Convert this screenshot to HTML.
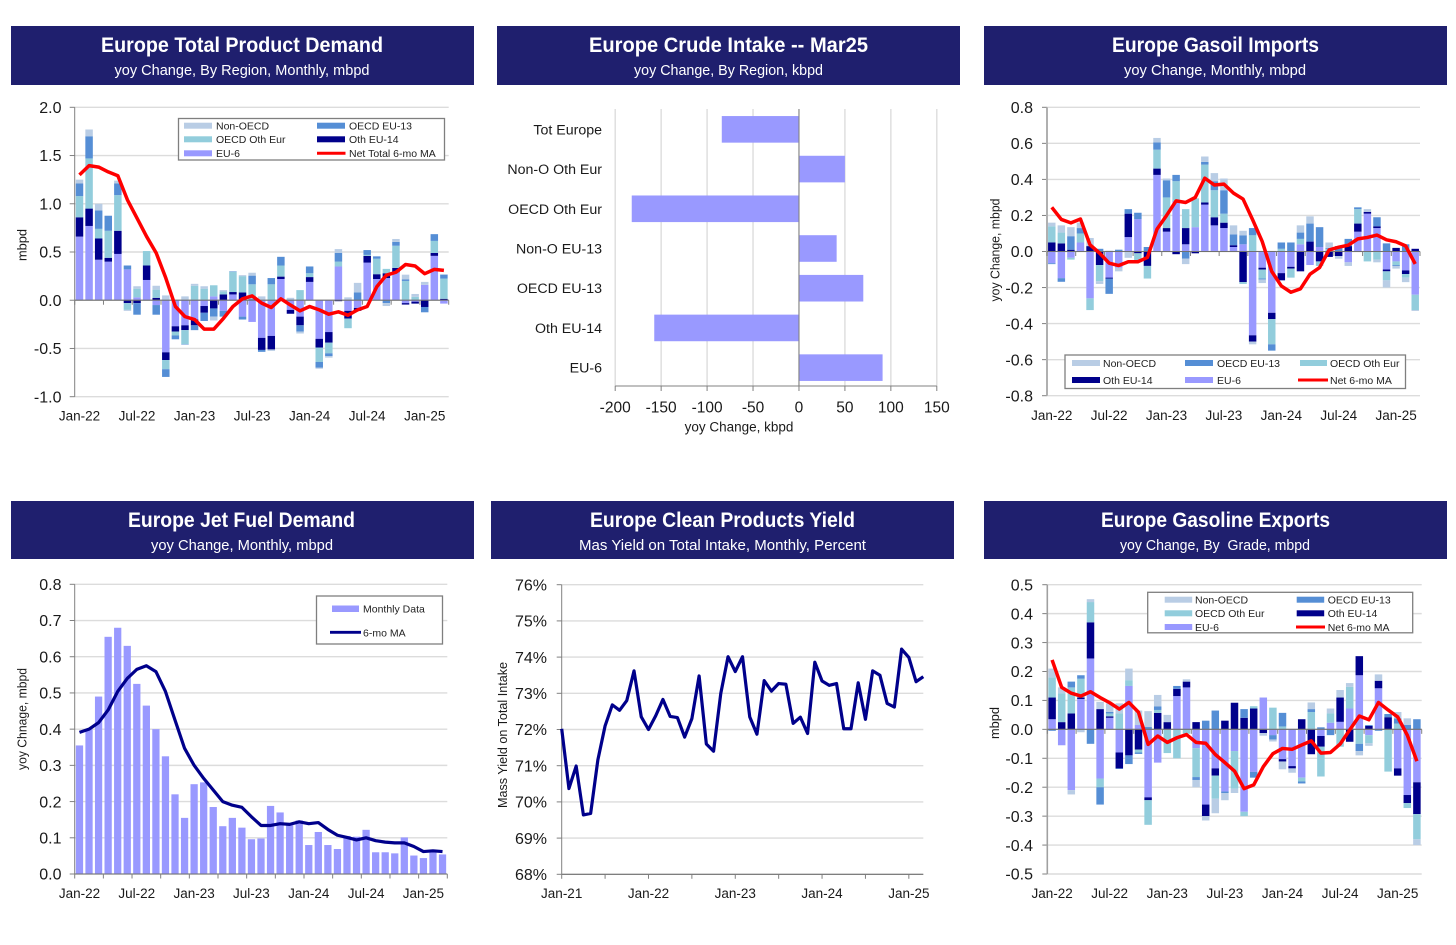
<!DOCTYPE html>
<html lang="en">
<head>
<meta charset="utf-8">
<title>Europe Oil Market Charts</title>
<style>
html,body{margin:0;padding:0;background:#fff;width:1456px;height:945px;overflow:hidden}
svg{display:block;font-family:"Liberation Sans",sans-serif}
.tb{fill:#1f1f6e}
.tt{fill:#fff;font-size:21px;font-weight:bold;text-anchor:middle}
.ts{fill:#fff;font-size:14.5px;text-anchor:middle;white-space:pre}
.lg{fill:#fff;stroke:#7f7f7f;stroke-width:1.3}
.lt{fill:#222;font-size:10.5px}
</style>
</head>
<body>
<svg id="page" width="1456" height="945" viewBox="0 0 1456 945" xmlns="http://www.w3.org/2000/svg">
  <g>
    <rect class="tb" x="11" y="26" width="463" height="59"/>
    <text class="tt" x="242" y="52" textLength="282" lengthAdjust="spacingAndGlyphs">Europe Total Product Demand</text>
    <text class="ts" x="242" y="75" textLength="255" lengthAdjust="spacingAndGlyphs">yoy Change, By Region, Monthly, mbpd</text>
  </g>
  <g>
    <rect class="tb" x="497" y="26" width="463" height="59"/>
    <text class="tt" x="728.500" y="52" textLength="279" lengthAdjust="spacingAndGlyphs">Europe Crude Intake -- Mar25</text>
    <text class="ts" x="728.500" y="75" textLength="189" lengthAdjust="spacingAndGlyphs">yoy Change, By Region, kbpd</text>
  </g>
  <g>
    <rect class="tb" x="984" y="26" width="463" height="59"/>
    <text class="tt" x="1215.500" y="52" textLength="207" lengthAdjust="spacingAndGlyphs">Europe Gasoil Imports</text>
    <text class="ts" x="1215" y="75" textLength="182" lengthAdjust="spacingAndGlyphs">yoy Change, Monthly, mbpd</text>
  </g>
  <g>
    <rect class="tb" x="11" y="501" width="463" height="58"/>
    <text class="tt" x="241.500" y="527" textLength="227" lengthAdjust="spacingAndGlyphs">Europe Jet Fuel Demand</text>
    <text class="ts" x="242" y="550" textLength="182" lengthAdjust="spacingAndGlyphs">yoy Change, Monthly, mbpd</text>
  </g>
  <g>
    <rect class="tb" x="491" y="501" width="463" height="58"/>
    <text class="tt" x="722.500" y="527" textLength="265" lengthAdjust="spacingAndGlyphs">Europe Clean Products Yield</text>
    <text class="ts" x="722.500" y="550" textLength="287" lengthAdjust="spacingAndGlyphs">Mas Yield on Total Intake, Monthly, Percent</text>
  </g>
  <g>
    <rect class="tb" x="984" y="501" width="463" height="58"/>
    <text class="tt" x="1215.500" y="527" textLength="229" lengthAdjust="spacingAndGlyphs">Europe Gasoline Exports</text>
    <text class="ts" x="1215" y="550" textLength="190" lengthAdjust="spacingAndGlyphs">yoy Change, By  Grade, mbpd</text>
  </g>
  <g id="plots"></g>
  <g>
    <rect class="lg" x="178.500" y="118.500" width="266" height="41.500"/>
    <rect x="184" y="122.700" width="28" height="6" fill="#b9cde5"/>
    <text class="lt" x="216" y="129.500">Non-OECD</text>
    <rect x="184" y="136.300" width="28" height="6" fill="#92cddc"/>
    <text class="lt" x="216" y="143.200">OECD Oth Eur</text>
    <rect x="184" y="150.300" width="28" height="6" fill="#9999ff"/>
    <text class="lt" x="216" y="157">EU-6</text>
    <rect x="317" y="122.700" width="28" height="6" fill="#558ed5"/>
    <text class="lt" x="349" y="129.500">OECD EU-13</text>
    <rect x="317" y="136.300" width="28" height="6" fill="#00008b"/>
    <text class="lt" x="349" y="143.200">Oth EU-14</text>
    <line x1="317" x2="345.500" y1="153.300" y2="153.300" stroke="#f00" stroke-width="3"/>
    <text class="lt" x="349" y="157">Net Total 6-mo MA</text>
  </g>
  <g>
    <rect class="lg" x="1065" y="355" width="340.500" height="33.500"/>
    <rect x="1072" y="360" width="28" height="6" fill="#b9cde5"/>
    <text class="lt" x="1103" y="367">Non-OECD</text>
    <rect x="1072" y="377" width="28" height="6" fill="#00008b"/>
    <text class="lt" x="1103" y="384">Oth EU-14</text>
    <rect x="1185" y="360" width="28" height="6" fill="#558ed5"/>
    <text class="lt" x="1217" y="367">OECD EU-13</text>
    <rect x="1185" y="377" width="28" height="6" fill="#9999ff"/>
    <text class="lt" x="1217" y="384">EU-6</text>
    <rect x="1300" y="360" width="27" height="6" fill="#92cddc"/>
    <text class="lt" x="1330" y="367">OECD Oth Eur</text>
    <line x1="1298" x2="1328" y1="380" y2="380" stroke="#f00" stroke-width="3"/>
    <text class="lt" x="1330" y="384">Net 6-mo MA</text>
  </g>
  <g>
    <rect class="lg" x="316.500" y="596" width="126" height="48"/>
    <rect x="332" y="605.500" width="27" height="6.500" fill="#9999ff"/>
    <text class="lt" x="363" y="612.500">Monthly Data</text>
    <line x1="330" x2="361" y1="632.300" y2="632.300" stroke="#00008b" stroke-width="2.800"/>
    <text class="lt" x="363" y="636.500">6-mo MA</text>
  </g>
  <g>
    <rect class="lg" x="1147.700" y="592.300" width="265" height="40.500"/>
    <rect x="1164.700" y="596.700" width="27.500" height="6" fill="#b9cde5"/>
    <text class="lt" x="1195" y="603.500">Non-OECD</text>
    <rect x="1164.700" y="610.300" width="27.500" height="6" fill="#92cddc"/>
    <text class="lt" x="1195" y="617.200">OECD Oth Eur</text>
    <rect x="1164.700" y="624" width="27.500" height="6" fill="#9999ff"/>
    <text class="lt" x="1195" y="630.800">EU-6</text>
    <rect x="1296.700" y="596.700" width="27.500" height="6" fill="#558ed5"/>
    <text class="lt" x="1327.700" y="603.500">OECD EU-13</text>
    <rect x="1296.700" y="610.300" width="27.500" height="6" fill="#00008b"/>
    <text class="lt" x="1327.700" y="617.200">Oth EU-14</text>
    <line x1="1296" x2="1325" y1="627" y2="627" stroke="#f00" stroke-width="3"/>
    <text class="lt" x="1327.700" y="630.800">Net 6-mo MA</text>
  </g>
</svg>
<script>
const stackXLabels = ['Jan-22','Jul-22','Jan-23','Jul-23','Jan-24','Jul-24','Jan-25'];

const demandTicks = [2,1.5,1,0.5,0,-0.5,-1];
const demandEU6 = [.66,.77,.42,.40,.48,.32,.03,.21,-.05,-.54,-.27,-.26,-.20,-.06,.04,-.11,.06,-.17,-.225,-.39,-.37,.22,-.10,-.17,.19,-.40,-.33,.35,-.11,-.08,.39,.22,.23,.29,-.03,-.015,.16,.46,-.035];
const demandEU14 = [.20,.18,.22,.04,.24,-.03,-.03,.15,.025,-.08,-.055,-.05,-.06,-.07,-.085,.06,.025,.08,.01,-.125,-.14,.025,-.04,-.09,.05,-.09,-.11,-.01,-.08,-.03,.07,.05,.05,.045,-.015,-.02,-.07,.03,.015];
const demandOthEur = [.22,.52,.10,.28,.37,-.07,.09,.15,.085,-.095,-.04,-.145,.15,.12,.115,.03,.21,.17,.155,0,.165,.115,0,.105,.04,-.15,-.11,.05,-.10,0,.01,.16,.045,.23,.20,.035,0,.125,.21];
const demandEU13 = [.13,.23,.19,.155,.12,.04,-.12,0,-.10,-.08,-.04,-.005,-.05,-.085,-.085,-.06,.005,-.03,.09,-.02,.065,.09,0,-.065,.07,-.06,-.03,.09,0,.08,.05,.025,-.03,.04,.015,0,-.055,.07,.04];
const demandNonOECD = [.04,.07,.07,.005,.03,-.01,.025,-.005,.04,.05,0,.04,.02,.025,-.04,.015,0,.01,.03,.04,-.015,0,.025,-.02,0,-.01,-.015,.04,.03,.10,0,0,-.03,.03,.05,.03,.03,0,.005];
const demandMA = [1.30,1.395,1.38,1.33,1.29,1.04,.85,.66,.49,.23,-.065,-.17,-.2,-.30,-.30,-.19,-.065,.015,.045,-.03,-.075,.015,-.05,-.11,-.065,-.10,-.145,-.12,-.155,-.10,-.065,.14,.26,.29,.37,.355,.275,.32,.31];

const crudeCategories = ['Tot Europe','Non-O Oth Eur','OECD Oth Eur','Non-O EU-13','OECD EU-13','Oth EU-14','EU-6'];
const crudeValues = [-84,50,-182,41,70,-157.500,91];
const crudeTicks = [-200,-150,-100,-50,0,50,100,150];

const gasoilTicks = [.8,.6,.4,.2,0,-.2,-.4,-.6,-.8];
const gasoilEU6 = [-.065,-.148,-.035,.05,-.26,0,-.145,-.09,.08,.18,0,.425,.11,.28,.04,.135,.26,.145,.13,.025,.04,-.465,-.09,-.34,-.12,-.085,.04,-.075,.025,0,0,-.06,.11,.21,.13,-.10,-.055,-.105,-.24];
const gasoilEU14 = [.05,.045,.01,0,.03,-.075,-.005,0,.13,-.01,-.08,.035,.02,-.015,.09,-.01,.012,.045,.03,.01,-.17,-.035,-.01,-.035,-.04,-.01,-.11,.055,-.055,-.03,-.025,.03,.045,.01,.01,-.01,.02,-.02,.015];
const gasoilOthEur = [.09,.06,-.01,.05,-.065,-.09,0,0,0,-.04,-.07,.105,.17,.11,.105,.16,.21,.15,.05,0,-.01,.09,-.05,-.14,.015,-.05,.03,0,-.025,.015,0,0,.08,-.055,-.045,-.05,-.02,-.02,-.085];
const gasoilEU13 = [-.005,-.02,.075,.03,0,.015,-.085,.01,.025,.035,.025,.04,.095,.035,-.04,0,.015,.05,.13,.06,.05,.04,-.005,-.035,.035,.05,.035,.10,.11,.005,.03,.04,.01,0,.05,.045,-.005,.04,0];
const gasoilNonOECD = [.02,.04,.05,.03,.045,-.015,.005,-.02,-.035,-.01,0,.025,.01,0,-.03,0,.03,.045,.065,.05,.025,-.015,-.02,0,0,0,.04,.04,0,.03,-.015,-.02,0,.015,-.015,-.04,-.015,-.025,-.005];
const gasoilMA = [.245,.178,.159,.18,.037,-.009,-.065,-.078,-.057,-.057,-.033,.124,.2,.281,.272,.3,.407,.369,.374,.324,.291,.176,.056,-.111,-.191,-.226,-.207,-.126,-.089,.009,.024,.035,.07,.078,.091,.065,.054,.031,-.069];

const jetTicks = [.8,.7,.6,.5,.4,.3,.2,.1,0];
const jetMonthly = [.355,.40,.49,.655,.68,.63,.525,.465,.40,.325,.22,.155,.248,.253,.185,.132,.155,.128,.096,.098,.188,.17,.135,.148,.08,.116,.08,.069,.105,.103,.122,.06,.06,.057,.101,.051,.044,.06,.054];
const jetMA = [.391,.40,.418,.453,.504,.54,.565,.575,.559,.504,.425,.347,.30,.264,.232,.20,.19,.184,.158,.134,.134,.139,.137,.144,.139,.142,.123,.107,.101,.094,.10,.092,.088,.086,.086,.076,.062,.064,.062];

const yieldTicks = [76,75,74,73,72,71,70,69,68];
const yieldXLabels = ['Jan-21','Jan-22','Jan-23','Jan-24','Jan-25'];
const yieldValues = [72.02,70.37,70.99,69.64,69.68,71.16,72.1,72.68,72.53,72.8,73.62,72.35,72.0,72.38,72.83,72.36,72.33,71.79,72.3,73.48,71.6,71.4,73.0,74.01,73.6,74.01,72.35,71.87,73.35,73.06,73.27,73.25,72.17,72.34,71.89,73.86,73.34,73.22,73.27,72.02,72.02,73.29,72.28,73.62,73.5,72.72,72.62,74.22,73.99,73.32,73.46];

const gasolineTicks = [.5,.4,.3,.2,.1,0,-.1,-.2,-.3,-.4,-.5];
const gasolineEU6 = [.035,-.055,-.21,.105,.245,-.17,.04,-.08,.15,.015,-.235,-.115,-.002,.115,.145,-.065,-.26,-.135,-.215,-.075,-.285,-.147,.11,-.02,-.103,-.127,-.167,0,-.023,.023,.026,.072,.187,-.02,.142,0,-.135,-.227,-.183];
const gasolineEU14 = [.075,.025,.055,.005,.125,.07,.005,-.055,-.09,-.07,-.01,.057,.025,.025,.02,.025,-.04,-.025,.03,.092,.04,.072,-.013,0,-.008,-.008,.035,-.086,-.037,0,.084,-.043,.066,.012,.026,.042,-.025,-.028,-.11];
const gasolineOthEur = [.07,.10,.09,.065,.07,-.03,.01,.055,.02,-.01,-.085,.01,-.08,-.10,-.015,-.10,0,-.08,0,-.13,-.015,.008,0,.075,.01,0,-.013,.06,-.103,.032,-.06,.075,-.05,-.028,0,-.146,.02,-.017,-.087];
const gasolineEU13 = [-.005,0,.02,.012,-.05,-.06,.005,-.002,-.03,-.005,.008,.012,0,.01,0,-.01,.03,.065,-.005,0,.03,-.02,0,-.015,.047,0,-.007,.01,.007,-.02,0,0,-.025,.003,-.005,.011,.018,.015,.035];
const gasolineNonOECD = [.03,.02,-.015,-.01,.01,.025,.03,.035,.04,.05,.055,.04,.025,0,.008,-.025,-.015,-.05,-.025,-.015,0,0,-.009,-.007,-.027,-.015,0,.023,0,.017,.026,.013,-.015,-.009,.022,0,.022,.023,-.02];
const gasolineMA = [.24,.145,.125,.115,.13,.11,.092,.07,.093,.059,-.052,-.023,-.045,-.029,-.018,-.045,-.048,-.087,-.115,-.144,-.205,-.192,-.129,-.084,-.066,-.069,-.054,-.04,-.082,-.08,-.051,-.002,.046,.033,.093,.067,.043,-.02,-.11];

const NS = 'http://www.w3.org/2000/svg';
const root = document.getElementById('plots');
const SERIES_COLORS = ['#9999ff','#00008b','#92cddc','#558ed5','#b9cde5'];
const SERIES_NAMES = ['eu-6','oth-eu-14','oecd-oth-eur','oecd-eu-13','non-oecd'];

function mk(tag, attrs, parent) {
  const el = document.createElementNS(NS, tag);
  for (const k in attrs) el.setAttribute(k, attrs[k]);
  (parent || root).appendChild(el);
  return el;
}
function label(parent, x, y, s, anchor, size, rot) {
  const el = mk('text', {x: x, y: y, 'text-anchor': anchor, 'font-size': size, fill: '#1a1a1a'}, parent);
  if (rot) el.setAttribute('transform', 'rotate(-90 ' + x + ' ' + y + ')');
  el.textContent = s;
  return el;
}
function group(name) {
  const g = mk('g', {});
  
  
  return g;
}
function scaleY(p) {
  return function (v) { return p.top + (p.vMax - v) / (p.vMax - p.vMin) * (p.bottom - p.top); };
}
function scaleBand(p, n) {
  return function (i) { return p.left + (i + 0.5) * (p.right - p.left) / n; };
}
function yAxis(g, p, y, ticks, fmt) {
  for (const t of ticks) {
    const grid = mk('line', {x1: p.left, x2: p.right, y1: y(t), y2: y(t), stroke: '#dcdcdc', 'stroke-width': 1.4}, g);
    
    
    const tick = mk('line', {x1: p.left - 5, x2: p.left, y1: y(t), y2: y(t), stroke: '#808080', 'stroke-width': 1}, g);
    
    
    const lab = label(g, p.labelX, y(t) + 5.700, fmt(t), 'end', 16);
    
    
  }
}
function axesFront(g, p, y, zero, n, tickEvery) {
  const ya = mk('line', {x1: p.left, x2: p.left, y1: p.top, y2: p.bottom, stroke: p.axisColor, 'stroke-width': p.axisWidth}, g);
  
  
  const xa = mk('line', {x1: p.left, x2: p.right, y1: y(zero), y2: y(zero), stroke: '#707070', 'stroke-width': 1.1}, g);
  
  
  for (let i = 0; i <= n; i += tickEvery) {
    const x = p.left + i * (p.right - p.left) / n;
    const t = mk('line', {x1: x, x2: x, y1: y(zero), y2: y(zero) + 4.500, stroke: '#808080', 'stroke-width': 1}, g);
    
    
  }
}
function linePath(g, xs, ys, color, width, name) {
  let d = '';
  xs.forEach(function (x, i) { d += (i ? 'L' : 'M') + x.toFixed(2) + ' ' + ys[i].toFixed(2); });
  const path = mk('path', {d: d, fill: 'none', stroke: color, 'stroke-width': width, 'stroke-linejoin': 'round'}, g);
  
  
}
function axisTitle(g, x, y, s, len) {
  const t = label(g, x, y, s, 'middle', 13, true);
  t.setAttribute('textLength', len);
  t.setAttribute('lengthAdjust', 'spacingAndGlyphs');
  
  
}
function xLabels(g, xs, y, labels) {
  labels.forEach(function (s, i) {
    const t = label(g, xs(i), y, s, 'middle', 13.500);
    
    
  });
}

function stackedChart(name, p, series, ma, ticks, fmt, title, titlePos) {
  const g = group(name + '-chart');
  const n = ma.length;
  const y = scaleY(p);
  const x = scaleBand(p, n);
  const step = (p.right - p.left) / n;
  yAxis(g, p, y, ticks, fmt);
  for (let i = 0; i < n; i++) {
    let pos = 0, neg = 0;
    series.forEach(function (s, k) {
      const v = s[i];
      if (!v) return;
      let a, b;
      if (v > 0) { a = pos; b = pos + v; pos = b; } else { a = neg; b = neg + v; neg = b; }
      const r = mk('rect', {x: x(i) - step * 0.39, width: step * 0.78, y: Math.min(y(a), y(b)), height: Math.abs(y(a) - y(b)), fill: SERIES_COLORS[k]}, g);
      
      
    });
  }
  axesFront(g, p, y, 0, n, 3);
  linePath(g, ma.map(function (v, i) { return x(i); }), ma.map(y), '#ff0000', 3.500, name + '-ma-line');
  xLabels(g, function (i) { return x(i * 6); }, p.xLabelY, stackXLabels);
  axisTitle(g, titlePos[0], titlePos[1], title, titlePos[2]);
}

stackedChart('demand',
  {left: 74.700, right: 448.700, top: 107.300, bottom: 396.700, vMax: 2, vMin: -1, labelX: 61.500, xLabelY: 420.500, axisColor: '#808080', axisWidth: 1},
  [demandEU6, demandEU14, demandOthEur, demandEU13, demandNonOECD], demandMA, demandTicks,
  function (t) { return t.toFixed(1); }, 'mbpd', [26.500, 245, 32]);

stackedChart('gasoil',
  {left: 1047, right: 1420, top: 107.300, bottom: 395.700, vMax: .8, vMin: -.8, labelX: 1033, xLabelY: 420, axisColor: '#b0b0b0', axisWidth: 2},
  [gasoilEU6, gasoilEU14, gasoilOthEur, gasoilEU13, gasoilNonOECD], gasoilMA, gasoilTicks,
  function (t) { return t.toFixed(1); }, 'yoy Change, mbpd', [999.500, 250, 103]);

stackedChart('gasoline',
  {left: 1047.300, right: 1421.700, top: 584.700, bottom: 874, vMax: .5, vMin: -.5, labelX: 1033, xLabelY: 898, axisColor: '#a0a0a0', axisWidth: 1.600},
  [gasolineEU6, gasolineEU14, gasolineOthEur, gasolineEU13, gasolineNonOECD], gasolineMA, gasolineTicks,
  function (t) { return t.toFixed(1); }, 'mbpd', [999, 723, 32]);

(function jetChart() {
  const g = group('jet-chart');
  const p = {left: 74.700, right: 447.300, top: 584.300, bottom: 874, vMax: .8, vMin: 0, labelX: 61.500, axisColor: '#808080', axisWidth: 1};
  const n = jetMonthly.length;
  const y = scaleY(p);
  const x = scaleBand(p, n);
  const step = (p.right - p.left) / n;
  yAxis(g, p, y, jetTicks, function (t) { return t.toFixed(1); });
  jetMonthly.forEach(function (v, i) {
    const r = mk('rect', {x: x(i) - step * 0.38, width: step * 0.76, y: y(v), height: y(0) - y(v), fill: '#9999ff'}, g);
    
    
  });
  axesFront(g, p, y, 0, n, 3);
  linePath(g, jetMA.map(function (v, i) { return x(i); }), jetMA.map(y), '#00008b', 3.200, 'jet-ma-line');
  xLabels(g, function (i) { return x(i * 6); }, 898, stackXLabels);
  axisTitle(g, 26.500, 719, 'yoy Chnage, mbpd', 102);
})();

(function yieldChart() {
  const g = group('yield-chart');
  const p = {left: 561.700, right: 923.300, top: 584.700, bottom: 874.300, vMax: 76, vMin: 68, labelX: 547, axisColor: '#808080', axisWidth: 1};
  const n = yieldValues.length - 1;
  const y = scaleY(p);
  const x = function (i) { return p.left + i * (p.right - p.left) / n; };
  yAxis(g, p, y, yieldTicks, function (t) { return t + '%'; });
  const ya = mk('line', {x1: p.left, x2: p.left, y1: p.top, y2: p.bottom, stroke: '#808080', 'stroke-width': 1}, g);
  
  
  const xa = mk('line', {x1: p.left, x2: p.right, y1: y(68), y2: y(68), stroke: '#707070', 'stroke-width': 1.100}, g);
  
  
  for (let i = 0; i <= n; i += 6) {
    const t = mk('line', {x1: x(i), x2: x(i), y1: y(68), y2: y(68) + 4.500, stroke: '#808080', 'stroke-width': 1}, g);
    
    
  }
  linePath(g, yieldValues.map(function (v, i) { return x(i); }), yieldValues.map(y), '#00008b', 3.200, 'yield-line');
  xLabels(g, function (i) { return x(i * 12); }, 898, yieldXLabels);
  axisTitle(g, 507, 735, 'Mass Yield on Total Intake', 146);
})();

(function crudeChart() {
  const g = group('crude-chart');
  const left = 615.200, right = 936.800, top = 109, bottom = 386, bandTop = 109.500, bandBottom = 387.500;
  const x = function (v) { return left + (v + 200) / 350 * (right - left); };
  const band = (bandBottom - bandTop) / crudeCategories.length;
  crudeTicks.forEach(function (t) {
    const grid = mk('line', {x1: x(t), x2: x(t), y1: top, y2: bottom, stroke: '#dcdcdc', 'stroke-width': 1.400}, g);
    
    
    const tick = mk('line', {x1: x(t), x2: x(t), y1: bottom, y2: bottom + 5, stroke: '#808080', 'stroke-width': 1}, g);
    
    
    const lab = label(g, x(t), 412.700, String(t), 'middle', 15.500);
    
    
  });
  crudeValues.forEach(function (v, i) {
    const cy = bandTop + (i + 0.5) * band;
    const r = mk('rect', {x: Math.min(x(0), x(v)), width: Math.abs(x(v) - x(0)), y: cy - 13.300, height: 26.600, fill: '#9999ff'}, g);
    
    
    const lab = label(g, 602, cy + 5, crudeCategories[i], 'end', 14.200);
    
    
  });
  const za = mk('line', {x1: x(0), x2: x(0), y1: top, y2: bottom, stroke: '#808080', 'stroke-width': 1}, g);
  
  
  const xa = mk('line', {x1: left, x2: right, y1: bottom, y2: bottom, stroke: '#808080', 'stroke-width': 1}, g);
  
  
  const title = label(g, 739, 431.500, 'yoy Change, kbpd', 'middle', 13.500);
  
  
})();
</script>
</body>
</html>
